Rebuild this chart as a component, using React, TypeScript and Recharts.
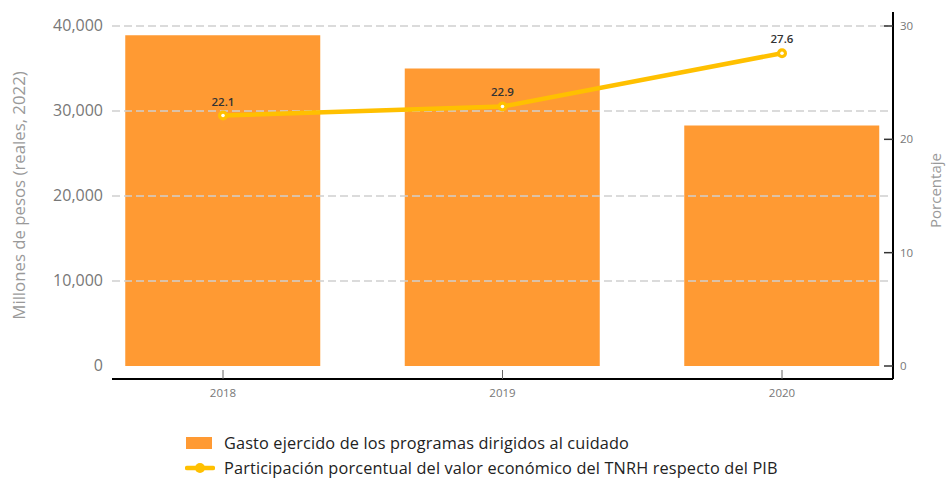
import React from 'react';
import { ComposedChart, Bar, Line, XAxis, YAxis, ReferenceLine, LabelList } from 'recharts';

const categories = ['2018', '2019', '2020'];
const gasto = [38900, 35000, 28300];
const participacion = [22.1, 22.9, 27.6];
const leftTicks = [0, 10000, 20000, 30000, 40000];
const rightTicks = [0, 10, 20, 30];
const gridValues = [10000, 20000, 30000, 40000];

const barLabel = 'Gasto ejercido de los programas dirigidos al cuidado';
const lineLabel = 'Participación porcentual del valor económico del TNRH respecto del PIB';

const data = categories.map((year, i) => ({ year, gasto: gasto[i], pct: participacion[i] }));

const FONT = '"Open Sans", "Noto Sans", sans-serif';
const BAR_COLOR = '#FF9A33';
const LINE_COLOR = '#FFC000';

const XTick = (props: any) => {
  const { x, y, payload } = props;
  return (
    <g>
      <line x1={x} x2={x} y1={y - 9} y2={y - 18} stroke="#666" strokeWidth={1} />
      <text x={x} y={y} dy={9} textAnchor="middle" fontSize={11.5} fill="#777" fontFamily={FONT}>
        {payload.value}
      </text>
    </g>
  );
};

const RightTick = (props: any) => {
  const { x, y, payload } = props;
  return (
    <g>
      <line x1={x - 7} x2={x - 16} y1={y} y2={y} stroke="#333" strokeWidth={1.5} />
      <text x={x} y={y} dy={4} textAnchor="start" fontSize={11.5} fill="#777" fontFamily={FONT}>
        {payload.value}
      </text>
    </g>
  );
};

const LeftTick = (props: any) => {
  const { x, y, payload } = props;
  return (
    <text x={x} y={y} dy={5} textAnchor="end" fontSize={16} fill="#777" fontFamily={FONT}>
      {Number(payload.value).toLocaleString('en-US')}
    </text>
  );
};

const Dot = (props: any) => {
  const { cx, cy } = props;
  if (cx == null || cy == null) return null;
  return (
    <g>
      <circle cx={cx} cy={cy} r={5} fill={LINE_COLOR} />
      <circle cx={cx} cy={cy} r={1.8} fill="#fff" />
    </g>
  );
};

export default function App() {
  return (
    <div style={{ position: 'absolute', left: 0, top: 0, width: 947, height: 479, background: '#fff', overflow: 'hidden' }}>
      <ComposedChart width={947} height={479} data={data} margin={{ top: 12, right: 14, bottom: 70, left: 32 }}>
        {gridValues.map((v) => (
          <ReferenceLine key={v} yAxisId="left" y={v} stroke="#d0d0d0" strokeWidth={1.5} strokeDasharray="8 4" />
        ))}
        <XAxis
          dataKey="year"
          scale="point"
          padding={{ left: 111, right: 111 }}
          height={30}
          axisLine={{ stroke: '#000', strokeWidth: 2 }}
          tickLine={false}
          tickMargin={3}
          tick={<XTick />}
        />
        <YAxis
          yAxisId="left"
          domain={[-1530, 41650]}
          ticks={leftTicks}
          width={80}
          axisLine={false}
          tickLine={false}
          tickMargin={3}
          tick={<LeftTick />}
          label={{
            content: (p: any) => {
              const vb = p.viewBox;
              const cy = vb.y + vb.height / 2;
              return (
                <text x={18} y={cy} transform={`rotate(-90, 18, ${cy})`} textAnchor="middle" dominantBaseline="central" fontSize={16.8} fill="#999" fontFamily={FONT}>
                  Millones de pesos (reales, 2022)
                </text>
              );
            },
          }}
        />
        <YAxis
          yAxisId="right"
          orientation="right"
          domain={[-1.147, 31.235]}
          ticks={rightTicks}
          width={40}
          axisLine={{ stroke: '#000', strokeWidth: 2 }}
          tickLine={false}
          tickMargin={1}
          tick={<RightTick />}
          label={{
            content: (p: any) => {
              const vb = p.viewBox;
              const cy = vb.y + vb.height / 2 - 5;
              return (
                <text x={935} y={cy} transform={`rotate(-90, 935, ${cy})`} textAnchor="middle" dominantBaseline="central" fontSize={15} fill="#999" fontFamily={FONT}>
                  Porcentaje
                </text>
              );
            },
          }}
        />
        <Bar yAxisId="left" dataKey="gasto" fill={BAR_COLOR} barSize={195} isAnimationActive={false} />
        <Line
          yAxisId="right"
          dataKey="pct"
          stroke={LINE_COLOR}
          strokeWidth={4.5}
          dot={<Dot />}
          activeDot={false}
          isAnimationActive={false}
        >
          <LabelList dataKey="pct" position="top" offset={10} fontSize={11.5} fontWeight={600} fill="#333" fontFamily={FONT} />
        </Line>
      </ComposedChart>
      <div style={{ position: 'absolute', left: 185, top: 430, fontFamily: FONT, fontSize: 16.3, color: '#222', lineHeight: '24px', letterSpacing: '0.15px' }}>
        <div style={{ display: 'flex', alignItems: 'center', height: 25 }}>
          <span style={{ display: 'inline-block', width: 26, height: 12, background: BAR_COLOR, marginLeft: 1, marginRight: 12 }} />
          <span>{barLabel}</span>
        </div>
        <div style={{ display: 'flex', alignItems: 'center', height: 25 }}>
          <svg width={30} height={12} style={{ marginRight: 9 }}>
            <line x1={2} x2={28} y1={6} y2={6} stroke={LINE_COLOR} strokeWidth={4.5} strokeLinecap="round" />
            <circle cx={15} cy={6} r={5} fill={LINE_COLOR} />
          </svg>
          <span>{lineLabel}</span>
        </div>
      </div>
    </div>
  );
}
